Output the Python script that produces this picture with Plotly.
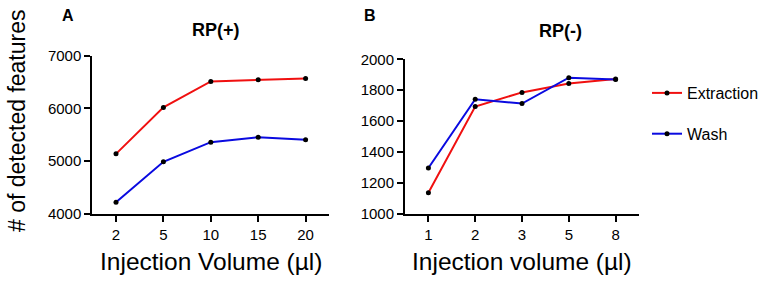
import plotly.graph_objects as go

vol_a = ["2", "5", "10", "15", "20"]
extraction_a = [5140, 6020, 6513, 6545, 6570]
wash_a = [4222, 4990, 5361, 5456, 5406]

vol_b = ["1", "2", "3", "5", "8"]
extraction_b = [1138, 1695, 1786, 1844, 1873]
wash_b = [1297, 1742, 1714, 1881, 1870]

RED = "#f01010"
BLUE = "#0a0ae0"
FONT = "Liberation Sans, Arial, sans-serif"

W, H = 765, 285

def px(x):
    return x / W

def py(y):
    return 1 - y / H

fig = go.Figure()

def add(xv, yv, name, color, xa, ya, show):
    fig.add_trace(go.Scatter(
        x=xv, y=yv, name=name, mode="lines+markers",
        line=dict(color=color, width=2),
        marker=dict(color="black", size=5),
        xaxis=xa, yaxis=ya, showlegend=show, legendgroup=name,
    ))

add(vol_a, extraction_a, "Extraction", RED, "x", "y", True)
add(vol_a, wash_a, "Wash", BLUE, "x", "y", True)
add(vol_b, extraction_b, "Extraction", RED, "x2", "y2", False)
add(vol_b, wash_b, "Wash", BLUE, "x2", "y2", False)

axis_common = dict(
    showline=True, linecolor="black", linewidth=2,
    ticks="outside", tickcolor="black", tickwidth=2, ticklen=6,
    showgrid=False, zeroline=False, automargin=False,
    tickfont=dict(family=FONT, size=15, color="black"),
)

fig.update_layout(
    width=W, height=H,
    margin=dict(l=0, r=0, t=0, b=0, autoexpand=False),
    paper_bgcolor="white", plot_bgcolor="white",
    font=dict(family=FONT, color="black"),
    xaxis=dict(domain=[px(92.3), px(329.3)], anchor="y", type="category",
               range=[-0.5, 4.5], **axis_common),
    yaxis=dict(domain=[py(214), py(55.7)], anchor="x", range=[4000, 7000],
               tickvals=[4000, 5000, 6000, 7000], **axis_common),
    xaxis2=dict(domain=[px(405), px(639)], anchor="y2", type="category",
                range=[-0.5, 4.5], **axis_common),
    yaxis2=dict(domain=[py(214), py(59.3)], anchor="x2", range=[1000, 2000],
                tickvals=[1000, 1200, 1400, 1600, 1800, 2000], **axis_common),
    legend=dict(x=px(647), y=py(76), xanchor="left", yanchor="top",
                font=dict(family=FONT, size=16, color="black"),
                itemwidth=30, tracegroupgap=17, bgcolor="rgba(0,0,0,0)"),
)

ann = [
    dict(text="<b>A</b>", x=px(68), y=py(16), size=16),
    dict(text="<b>RP(+)</b>", x=px(216), y=py(30), size=18),
    dict(text="<b>B</b>", x=px(370), y=py(16), size=16),
    dict(text="<b>RP(-)</b>", x=px(560), y=py(31), size=18),
    dict(text="Injection Volume (µl)", x=px(211), y=py(261), size=24.5),
    dict(text="Injection volume (µl)", x=px(522), y=py(261), size=24.5),
]
for a in ann:
    fig.add_annotation(text=a["text"], x=a["x"], y=a["y"], xref="paper", yref="paper",
                       showarrow=False, xanchor="center", yanchor="middle",
                       font=dict(family=FONT, size=a["size"], color="black"))

fig.add_annotation(text="# of detected features", x=px(17), y=py(121), xref="paper",
                   yref="paper", showarrow=False, textangle=-90,
                   xanchor="center", yanchor="middle",
                   font=dict(family=FONT, size=23, color="black"))

fig.write_html("out.html", config={"displayModeBar": False},
               post_script="document.body.style.margin='0';")
